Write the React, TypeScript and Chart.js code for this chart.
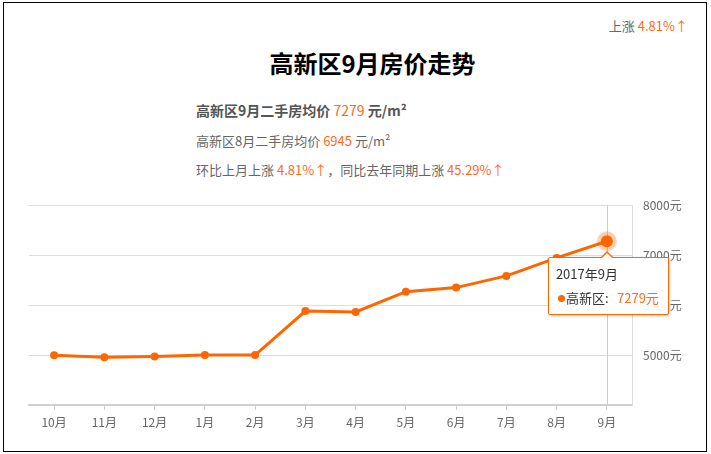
import React, { useEffect, useRef, useState } from 'react';
import { Chart, registerables } from 'chart.js';

Chart.register(...registerables);

// ---- data ----
const months = ['10月', '11月', '12月', '1月', '2月', '3月', '4月', '5月', '6月', '7月', '8月', '9月'];
const prices = [4995, 4958, 4970, 5000, 5000, 5880, 5862, 6268, 6350, 6585, 6945, 7279];
const yTickValues = [4000, 5000, 6000, 7000, 8000];
const seriesName = '高新区';
const tooltipTitle = '2017年9月';
const districtTitle = '高新区9月房价走势';
const currentLabel = '高新区9月二手房均价';
const previousLabel = '高新区8月二手房均价';
const currentPrice = 7279;
const previousPrice = 6945;
const momChange = '4.81%';
const yoyChange = '45.29%';

const ORANGE = '#ff6600';
const TEXT_ORANGE = '#ff6a1a';
const FONT = '"Noto Sans CJK SC", "Noto Sans", sans-serif';

const CANVAS_TOP = 187;
const CANVAS_W = 711;
const CANVAS_H = 253;

export default function App() {
  const canvasRef = useRef<HTMLCanvasElement | null>(null);
  const [tip, setTip] = useState<{ x: number; y: number } | null>(null);

  useEffect(() => {
    if (!canvasRef.current) return;
    const activeIndex = prices.length - 1;

    const crosshair = {
      id: 'crosshair',
      beforeDatasetsDraw(chart: any) {
        const pt = chart.getDatasetMeta(0).data[activeIndex];
        if (!pt) return;
        const { top, bottom } = chart.chartArea;
        const ctx = chart.ctx;
        ctx.save();
        ctx.strokeStyle = '#cccccc';
        ctx.lineWidth = 1;
        ctx.beginPath();
        ctx.moveTo(Math.round(pt.x) + 0.5, top);
        ctx.lineTo(Math.round(pt.x) + 0.5, bottom);
        ctx.stroke();
        ctx.restore();
      },
    };

    const chart = new Chart(canvasRef.current, {
      type: 'line',
      data: {
        labels: months,
        datasets: [
          {
            label: seriesName,
            data: prices,
            borderColor: ORANGE,
            backgroundColor: ORANGE,
            borderWidth: 3,
            tension: 0,
            pointRadius: (c: any) => (c.dataIndex === activeIndex ? 6 : 4),
            pointBorderWidth: (c: any) => (c.dataIndex === activeIndex ? 8 : 0),
            pointBorderColor: (c: any) =>
              c.dataIndex === activeIndex ? 'rgba(255,102,0,0.3)' : ORANGE,
            pointBackgroundColor: ORANGE,
          },
        ],
      },
      options: {
        responsive: false,
        animation: false,
        events: [],
        layout: { padding: { left: 29, right: 0, top: 12, bottom: 0 } },
        plugins: {
          legend: { display: false },
          tooltip: { enabled: false },
          title: { display: false },
        },
        scales: {
          x: {
            type: 'category',
            offset: true,
            grid: {
              drawOnChartArea: false,
              drawTicks: true,
              tickLength: 5,
              color: '#cccccc',
              offset: false,
            },
            border: { display: true, color: '#d0d0d0', width: 2 },
            ticks: {
              color: '#666666',
              padding: 5,
              font: { size: 12, family: FONT },
              maxRotation: 0,
              autoSkip: false,
            },
            afterFit(scale: any) {
              scale.height = 35;
            },
          },
          y: {
            position: 'right',
            min: yTickValues[0],
            max: yTickValues[yTickValues.length - 1],
            afterBuildTicks(scale: any) {
              scale.ticks = yTickValues.map((v) => ({ value: v }));
            },
            grid: { color: '#dddddd', drawTicks: false, lineWidth: 1 },
            border: { display: true, color: '#dddddd', width: 1 },
            ticks: {
              color: '#666666',
              padding: 11,
              font: { size: 12, family: FONT },
              callback: (v: any) => (v === yTickValues[0] ? '' : `${v}元`),
            },
            afterFit(scale: any) {
              scale.width = 79;
            },
          },
        },
      },
      plugins: [crosshair],
    } as any);

    const pt: any = chart.getDatasetMeta(0).data[activeIndex];
    if (pt) setTip({ x: pt.x, y: pt.y + CANVAS_TOP });

    return () => {
      chart.destroy();
    };
  }, []);

  const gray = '#666666';

  return (
    <div
      style={{
        position: 'fixed',
        left: 0,
        top: 0,
        width: 711,
        height: 454,
        background: '#fff',
        fontFamily: FONT,
        overflow: 'hidden',
      }}
    >
      <div
        style={{
          position: 'absolute',
          left: 3,
          top: 2,
          width: 704,
          height: 450,
          boxSizing: 'border-box',
          border: '1px solid #000',
        }}
      />
      <div
        style={{
          position: 'absolute',
          right: 23,
          top: 18,
          fontSize: 13,
          lineHeight: '16px',
          color: gray,
          whiteSpace: 'nowrap',
        }}
      >
        上涨 <span style={{ color: TEXT_ORANGE }}>{momChange}↑</span>
      </div>
      <div
        style={{
          position: 'absolute',
          left: 0,
          width: 745,
          top: 48,
          textAlign: 'center',
          fontSize: 24,
          fontWeight: 'bold',
          lineHeight: '30px',
          color: '#000',
        }}
      >
        {districtTitle}
      </div>
      <div
        style={{
          position: 'absolute',
          left: 196,
          top: 100,
          fontSize: 14,
          lineHeight: '20px',
          color: '#555',
          fontWeight: 'bold',
          whiteSpace: 'nowrap',
        }}
      >
        {currentLabel} <span style={{ color: TEXT_ORANGE, fontWeight: 'normal' }}>{currentPrice}</span> 元/m²
      </div>
      <div
        style={{
          position: 'absolute',
          left: 196,
          top: 131,
          fontSize: 13,
          lineHeight: '20px',
          color: gray,
          whiteSpace: 'nowrap',
        }}
      >
        {previousLabel} <span style={{ color: TEXT_ORANGE }}>{previousPrice}</span> 元/m²
      </div>
      <div
        style={{
          position: 'absolute',
          left: 196,
          top: 160,
          fontSize: 13,
          lineHeight: '20px',
          color: gray,
          whiteSpace: 'nowrap',
        }}
      >
        环比上月上涨 <span style={{ color: TEXT_ORANGE }}>{momChange}↑</span>，同比去年同期上涨{' '}
        <span style={{ color: TEXT_ORANGE }}>{yoyChange}↑</span>
      </div>

      <canvas
        ref={canvasRef}
        width={CANVAS_W}
        height={CANVAS_H}
        style={{ position: 'absolute', left: 0, top: CANVAS_TOP, width: CANVAS_W, height: CANVAS_H }}
      />

      {tip && (
        <div
          style={{
            position: 'absolute',
            left: tip.x - 59,
            top: tip.y + 16,
            width: 121,
            height: 58,
            boxSizing: 'border-box',
            border: `1px solid ${ORANGE}`,
            background: 'rgba(255,255,255,0.95)',
            borderRadius: 2,
            boxShadow: '1px 1px 3px rgba(0,0,0,0.2)',
            padding: '8px 9px 0 7px',
            fontSize: 13,
            lineHeight: '16px',
            color: '#333',
            whiteSpace: 'nowrap',
          }}
        >
          <div
            style={{
              position: 'absolute',
              left: 51,
              top: -7,
              width: 0,
              height: 0,
              borderLeft: '7px solid transparent',
              borderRight: '7px solid transparent',
              borderBottom: `7px solid ${ORANGE}`,
            }}
          />
          <div
            style={{
              position: 'absolute',
              left: 52,
              top: -5,
              width: 0,
              height: 0,
              borderLeft: '6px solid transparent',
              borderRight: '6px solid transparent',
              borderBottom: '6px solid #fff',
            }}
          />
          <div>{tooltipTitle}</div>
          <div style={{ display: 'flex', alignItems: 'center', marginTop: 8 }}>
            <span
              style={{
                display: 'inline-block',
                width: 7,
                height: 7,
                borderRadius: '50%',
                background: ORANGE,
                marginLeft: 2,
                marginRight: 1,
              }}
            />
            <span>{seriesName}:</span>
            <span style={{ marginLeft: 'auto', color: TEXT_ORANGE }}>{currentPrice}元</span>
          </div>
        </div>
      )}
    </div>
  );
}
